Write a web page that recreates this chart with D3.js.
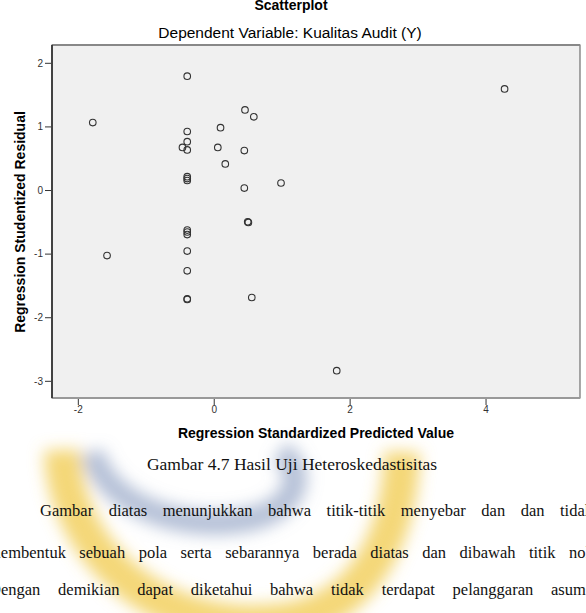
<!DOCTYPE html>
<html>
<head>
<meta charset="utf-8">
<script src="https://cdn.jsdelivr.net/npm/d3@7"></script>
<style>
  body { margin: 0; background: #fff; overflow: hidden; }
  svg { display: block; }
</style>
</head>
<body>
<div id="chart"></div>
<script>
// predicted (standardized) vs studentized residual
var predicted = [-1.78, -1.57, -0.39, -0.39, -0.39, -0.46, -0.39, -0.39, -0.39, -0.39,
                 -0.39, -0.39, -0.39, -0.39, -0.39, -0.39, -0.39, 0.46, 0.59, 0.10,
                 0.06, 0.45, 0.17, 0.45, 0.99, 0.50, 0.51, 0.56, 1.81, 4.28]
var residual  = [1.06, -1.03, 1.79, 0.92, 0.76, 0.67, 0.63, 0.21, 0.18, 0.15,
                 -0.63, -0.66, -0.70, -0.96, -1.27, -1.71, -1.72, 1.26, 1.15, 0.98,
                 0.67, 0.62, 0.41, 0.03, 0.11, -0.50, -0.51, -1.69, -2.84, 1.59]
var xTicks = [-2, 0, 2, 4]
var yTicks = [-3, -2, -1, 0, 1, 2]

var title = "Scatterplot"
var subtitle = "Dependent Variable: Kualitas Audit (Y)"
var xLabel = "Regression Standardized Predicted Value"
var yLabel = "Regression Studentized Residual"
var caption = "Gambar 4.7 Hasil Uji Heteroskedastisitas"
var paragraph = [
    "Gambar diatas menunjukkan bahwa titik-titik menyebar dan dan tidak",
    "membentuk sebuah pola serta sebarannya berada diatas dan dibawah titik nol.",
    "Dengan demikian dapat diketahui bahwa tidak terdapat pelanggaran asumsi"
]

var W = 586, H = 613
var plot = {left: 52, right: 580, top: 45, bottom: 398}
var sans = "Liberation Sans, Arial, sans-serif"
var serif = "Liberation Serif, Times New Roman, serif"

var svg = d3.select("#chart").append("svg")
    .attr("width", W)
    .attr("height", H)

/* watermark behind the page text */
var defs = svg.append("defs")
defs.append("filter").attr("id", "blur")
    .attr("x", "-30%").attr("y", "-30%").attr("width", "160%").attr("height", "160%")
    .append("feGaussianBlur").attr("stdDeviation", 8)

var wm = svg.append("g").attr("filter", "url(#blur)")
wm.append("path")
    .attr("d", "M 62 450 C 65 560, 170 640, 290 620 C 370 605, 400 530, 402 452")
    .attr("fill", "none")
    .attr("stroke", "#f1cd55")
    .attr("stroke-width", 36)
    .attr("opacity", 0.8)
wm.append("path")
    .attr("d", "M 92 452 C 105 505, 185 535, 255 518 C 300 505, 305 470, 280 452")
    .attr("fill", "none")
    .attr("stroke", "#8496bd")
    .attr("stroke-width", 24)
    .attr("opacity", 0.6)

/* Scale */
var xScale = d3.scaleLinear().domain([-2.38, 5.39]).range([plot.left, plot.right])
var yScale = d3.scaleLinear().domain([-3.27, 2.28]).range([plot.bottom, plot.top])

/* titles */
svg.append("text")
    .attr("x", 291).attr("y", 10)
    .attr("text-anchor", "middle")
    .attr("font-family", sans)
    .attr("font-weight", "bold")
    .attr("font-size", "14px")
    .text(title)

svg.append("text")
    .attr("x", 290).attr("y", 38)
    .attr("text-anchor", "middle")
    .attr("font-family", sans)
    .attr("font-size", "15.5px")
    .attr("fill", "#000")
    .text(subtitle)

/* plot frame */
svg.append("rect")
    .attr("x", plot.left).attr("y", plot.top)
    .attr("width", plot.right - plot.left)
    .attr("height", plot.bottom - plot.top)
    .attr("fill", "#f0f0f0")
    .attr("stroke", "#555")
    .attr("stroke-width", 1)

svg.append("line")
    .attr("x1", plot.left).attr("x2", plot.right)
    .attr("y1", plot.top).attr("y2", plot.top)
    .attr("stroke", "#888").attr("stroke-width", 2)
svg.append("line")
    .attr("x1", plot.left).attr("x2", plot.right)
    .attr("y1", plot.bottom).attr("y2", plot.bottom)
    .attr("stroke", "#999").attr("stroke-width", 2)
svg.append("line")
    .attr("x1", plot.left).attr("x2", plot.left)
    .attr("y1", plot.top).attr("y2", plot.bottom)
    .attr("stroke", "#222").attr("stroke-width", 1.5)

/* Add Axis into SVG */
var fmt = function(d) { return String(d) }
var xAxis = d3.axisBottom(xScale).tickValues(xTicks).tickFormat(fmt).tickSize(6).tickPadding(1)
var yAxis = d3.axisLeft(yScale).tickValues(yTicks).tickFormat(fmt).tickSize(6).tickPadding(2)

var gx = svg.append("g")
    .attr("transform", "translate(0," + (plot.bottom + 1) + ")")
    .call(xAxis)
var gy = svg.append("g")
    .attr("transform", "translate(" + (plot.left - 1) + ",0)")
    .call(yAxis)

gx.select(".domain").remove()
gy.select(".domain").remove()
svg.selectAll(".tick line").attr("stroke", "#333")
svg.selectAll(".tick text")
    .attr("font-family", sans)
    .attr("font-size", "10px")
    .attr("fill", "#333")

svg.append("text")
    .attr("x", 316).attr("y", 438)
    .attr("text-anchor", "middle")
    .attr("font-family", sans)
    .attr("font-weight", "bold")
    .attr("font-size", "14px")
    .text(xLabel)

svg.append("text")
    .attr("transform", "translate(25," + 222 + ") rotate(-90)")
    .attr("text-anchor", "middle")
    .attr("font-family", sans)
    .attr("font-weight", "bold")
    .attr("font-size", "14px")
    .text(yLabel)

/* Add Circles into SVG */
var points = predicted.map(function(p, i) { return {x: p, y: residual[i]} })
svg.append("g").selectAll("circle")
    .data(points)
    .enter()
    .append("circle")
    .attr("cx", function(d) { return xScale(d.x) })
    .attr("cy", function(d) { return yScale(d.y) })
    .attr("r", 3.3)
    .attr("fill", "none")
    .attr("stroke", "#333")
    .attr("stroke-width", 1.1)

/* caption and body text below the figure */
svg.append("text")
    .attr("x", 292).attr("y", 470)
    .attr("text-anchor", "middle")
    .attr("font-family", serif)
    .attr("font-size", "17.5px")
    .attr("fill", "#111")
    .text(caption)

// justified lines: first word start and last word start per line
var firstX = [40, -12, -11]
var lastX = [560, 569, 551]
var lineY = [516, 558, 595]
paragraph.forEach(function(t, i) {
    var words = t.split(" ")
    var g = svg.append("g")
    var nodes = words.map(function(w) {
        return g.append("text")
            .attr("y", lineY[i])
            .attr("font-family", serif)
            .attr("font-size", "16.5px")
            .attr("fill", "#111")
            .text(w)
    })
    var widths = nodes.map(function(n) { return n.node().getComputedTextLength() })
    var inner = d3.sum(widths.slice(0, -1))
    var gap = (lastX[i] - firstX[i] - inner) / (words.length - 1)
    var x = firstX[i]
    nodes.forEach(function(n, j) {
        n.attr("x", x)
        x += widths[j] + gap
    })
})
</script>
</body>
</html>
